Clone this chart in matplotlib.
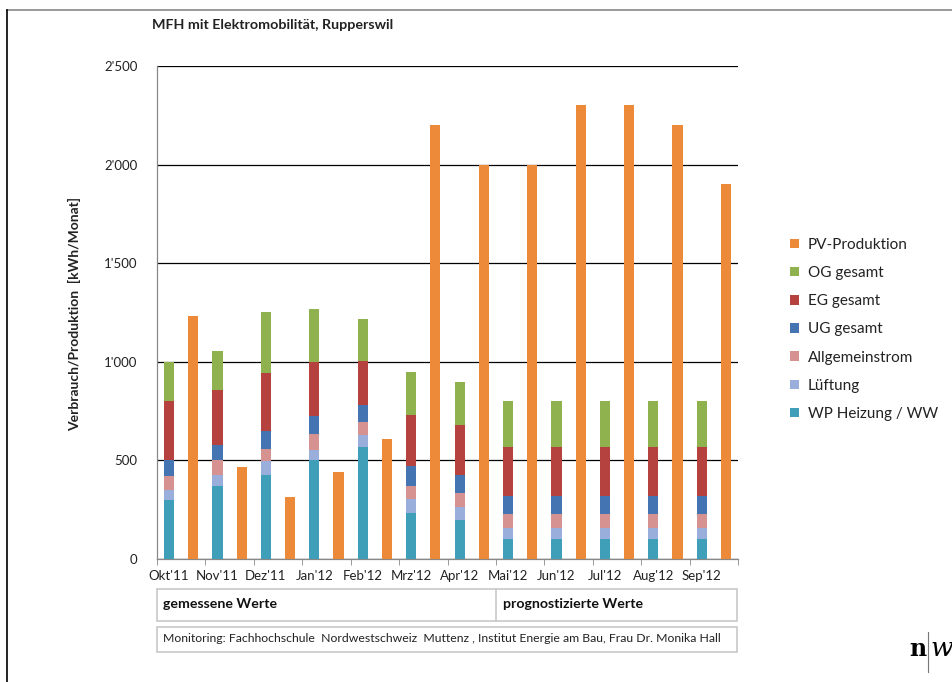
import numpy as np
import matplotlib
matplotlib.use('Agg')
import matplotlib.pyplot as plt
from matplotlib.ticker import FuncFormatter
from matplotlib.patches import Rectangle
from matplotlib.lines import Line2D

plt.rcParams['font.family'] = ['Lato', 'DejaVu Sans']

months = ["Okt'11", "Nov'11", "Dez'11", "Jan'12", "Feb'12", "Mrz'12",
          "Apr'12", "Mai'12", "Jun'12", "Jul'12", "Aug'12", "Sep'12"]

# stacked consumption (kWh/Monat), bottom to top
wp_heizung = [300, 370, 425, 500, 570, 235, 200, 100, 100, 100, 100, 100]
lueftung = [50, 55, 70, 55, 60, 68, 65, 55, 55, 55, 55, 55]
allgemein = [70, 75, 65, 80, 65, 67, 68, 72, 72, 72, 72, 72]
ug_gesamt = [80, 80, 90, 90, 85, 102, 93, 93, 93, 93, 93, 93]
eg_gesamt = [300, 275, 295, 275, 222, 258, 254, 250, 250, 250, 250, 250]
og_gesamt = [200, 200, 310, 268, 215, 217, 217, 230, 230, 230, 230, 230]
pv_produktion = [1232, 465, 314, 440, 607, 2200, 2000, 2000, 2300, 2300, 2200, 1900]

series = [
    ('WP Heizung / WW', wp_heizung, '#3f9fb9'),
    ('Lüftung', lueftung, '#9aaedb'),
    ('Allgemeinstrom', allgemein, '#d59290'),
    ('UG gesamt', ug_gesamt, '#4574b3'),
    ('EG gesamt', eg_gesamt, '#b5423f'),
    ('OG gesamt', og_gesamt, '#8fb24f'),
]
pv_color = '#ec8a3a'

fig = plt.figure(figsize=(9.52, 6.82), dpi=100)
ax = fig.add_axes([157 / 952, 1 - 559 / 682, 581 / 952, 493 / 682])

n = len(months)
x_cons = np.arange(n) * 2
x_pv = x_cons + 1
w = 0.42

bottom = np.zeros(n)
handles = {}
for name, vals, col in series:
    b = ax.bar(x_cons, vals, w, bottom=bottom, color=col, zorder=3)
    handles[name] = b
    bottom += np.array(vals)
handles['PV-Produktion'] = ax.bar(x_pv, pv_produktion, w, color=pv_color, zorder=3)

ax.set_xlim(-0.5, 2 * n - 0.5)
ax.set_ylim(0, 2500)
ax.set_yticks(np.arange(0, 2501, 500))
ax.yaxis.set_major_formatter(FuncFormatter(lambda v, p: f"{int(v):,}".replace(',', "'")))
ax.grid(axis='y', color='black', linewidth=0.9, zorder=0)
ax.set_xticks(x_cons)
ax.set_xticklabels(months)
ax.set_xticks(np.arange(-0.5, 2 * n, 2), minor=True)
ax.tick_params(axis='x', which='major', length=0, pad=8, labelsize=9.5, colors='#222222')
ax.tick_params(axis='x', which='minor', length=4, color='#888888')
ax.tick_params(axis='y', length=0, pad=14, labelsize=9.5, colors='#222222')
for s in ['top', 'right']:
    ax.spines[s].set_visible(False)
for s in ['left', 'bottom']:
    ax.spines[s].set_color('#888888')
    ax.spines[s].set_linewidth(0.9)

fig.text(152 / 952, 1 - 25 / 682, 'MFH mit Elektromobilität, Rupperswil',
         fontsize=10.3, fontweight='bold', va='center', ha='left', color='#222222')
fig.text(75 / 952, 1 - 314 / 682, 'Verbrauch/Produktion  [kWh/Monat]',
         fontsize=10, fontweight='bold', rotation=90, rotation_mode='anchor',
         va='center', ha='center', color='#222222')

order = ['PV-Produktion', 'OG gesamt', 'EG gesamt', 'UG gesamt',
         'Allgemeinstrom', 'Lüftung', 'WP Heizung / WW']
leg = fig.legend([handles[k] for k in order], order, loc='upper left',
                 bbox_to_anchor=(776 / 952, 1 - 224 / 682), frameon=False,
                 fontsize=11, handlelength=0.6, handleheight=0.6,
                 handletextpad=0.6, labelspacing=0.93)
for t in leg.get_texts():
    t.set_color('#222222')

# boxes below the chart
edge = '#c8c8c8'
fig.patches.append(Rectangle((157 / 952, 1 - 621 / 682), 580 / 952, 32 / 682,
                             transform=fig.transFigure, fill=False,
                             edgecolor=edge, linewidth=1.2))
fig.lines.append(Line2D([496 / 952, 496 / 952], [1 - 621 / 682, 1 - 589 / 682],
                        transform=fig.transFigure, color=edge, linewidth=1.2))
fig.patches.append(Rectangle((157 / 952, 1 - 652 / 682), 580 / 952, 25 / 682,
                             transform=fig.transFigure, fill=False,
                             edgecolor=edge, linewidth=1.2))
fig.text(163 / 952, 1 - 604 / 682, 'gemessene Werte', fontsize=10.2,
         fontweight='bold', va='center', ha='left', color='#111111')
fig.text(503 / 952, 1 - 604 / 682, 'prognostizierte Werte', fontsize=10.2,
         fontweight='bold', va='center', ha='left', color='#111111')
fig.text(163 / 952, 1 - 639 / 682,
         'Monitoring: Fachhochschule  Nordwestschweiz  Muttenz , Institut Energie am Bau, Frau Dr. Monika Hall',
         fontsize=8.8, va='center', ha='left', color='#222222')

# page frame lines
fig.lines.append(Line2D([7 / 952, 1], [1 - 10 / 682, 1 - 10 / 682],
                        transform=fig.transFigure, color='#888888', linewidth=1.2))
fig.lines.append(Line2D([7 / 952, 7 / 952], [0, 1 - 10 / 682],
                        transform=fig.transFigure, color='black', linewidth=1.2))

# logo
fig.text(909 / 952, 1 - 656 / 682, 'n', fontsize=17, fontweight='bold',
         family='DejaVu Serif', va='baseline', ha='left', color='black')
fig.lines.append(Line2D([928 / 952, 928 / 952], [1 - 672 / 682, 1 - 632 / 682],
                        transform=fig.transFigure, color='#777777', linewidth=0.8))
fig.text(931 / 952, 1 - 656 / 682, 'w', fontsize=19, style='italic',
         family='DejaVu Serif', va='baseline', ha='left', color='black')

fig.savefig('out.png', dpi=100)
